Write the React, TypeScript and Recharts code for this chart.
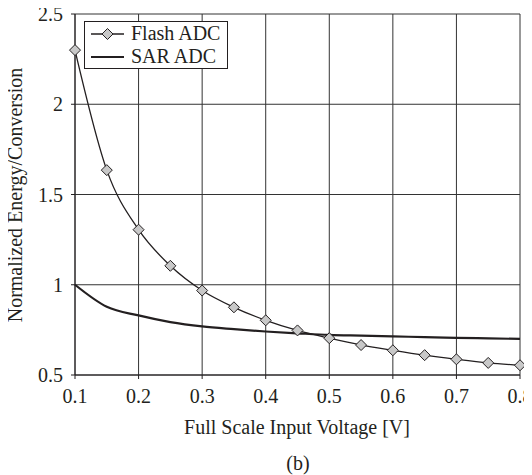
import React from "react";
import { LineChart, Line, XAxis, YAxis, CartesianGrid, Legend } from "recharts";

const voltages = [0.1, 0.15, 0.2, 0.25, 0.3, 0.35, 0.4, 0.45, 0.5, 0.55, 0.6, 0.65, 0.7, 0.75, 0.8];
const flashValues = [2.3, 1.635, 1.305, 1.105, 0.968, 0.875, 0.803, 0.747, 0.704, 0.666, 0.637, 0.61, 0.587, 0.567, 0.554];
const sarValues = [1.0, 0.878, 0.83, 0.793, 0.769, 0.754, 0.741, 0.731, 0.722, 0.718, 0.714, 0.71, 0.706, 0.703, 0.7];
const xTicks = [0.1, 0.2, 0.3, 0.4, 0.5, 0.6, 0.7, 0.8];
const yTicks = [0.5, 1, 1.5, 2, 2.5];

const data = voltages.map((v, i) => ({ v, flash: flashValues[i], sar: sarValues[i] }));

const FONT = '"Liberation Serif", "Times New Roman", serif';
const INK = "#231f20";

const Diamond = (props: any) => {
  const { cx, cy, index } = props;
  if (cx == null || cy == null) return null;
  const r = 5.5;
  return (
    <polygon
      key={`d-${index}`}
      points={`${cx},${cy - r} ${cx + r},${cy} ${cx},${cy + r} ${cx - r},${cy}`}
      fill="#c8c8c8"
      stroke={INK}
      strokeWidth={1}
    />
  );
};

const LegendBox = () => (
  <div
    style={{
      width: 142,
      height: 46,
      border: `1px solid ${INK}`,
      background: "#fff",
      fontFamily: FONT,
      fontSize: 20,
      color: INK,
      boxSizing: "content-box",
    }}
  >
    <div style={{ display: "flex", alignItems: "center", height: 23 }}>
      <svg width={46} height={16} style={{ flex: "none" }}>
        <line x1={6} y1={8} x2={39} y2={8} stroke={INK} strokeWidth={1.3} />
        <polygon points="22.5,2.5 28,8 22.5,13.5 17,8" fill="#c8c8c8" stroke={INK} strokeWidth={1} />
      </svg>
      <span style={{ lineHeight: "23px" }}>Flash ADC</span>
    </div>
    <div style={{ display: "flex", alignItems: "center", height: 23 }}>
      <svg width={46} height={16} style={{ flex: "none" }}>
        <line x1={6} y1={8} x2={39} y2={8} stroke={INK} strokeWidth={2.2} />
      </svg>
      <span style={{ lineHeight: "23px" }}>SAR ADC</span>
    </div>
  </div>
);

export default function App() {
  const tickStyle = { fontFamily: FONT, fontSize: 20, fill: INK };
  return (
    <div style={{ position: "relative", width: 524, height: 467, background: "#fff" }}>
      <style>{`.recharts-surface { overflow: visible; }`}</style>
      <LineChart
        width={524}
        height={467}
        data={data}
        margin={{ top: 6, right: 12, left: 0, bottom: 70 }}
      >
        <CartesianGrid stroke="#333" strokeWidth={1} horizontalValues={yTicks} verticalValues={xTicks} />
        <XAxis
          dataKey="v"
          type="number"
          domain={[0.1, 0.8]}
          ticks={xTicks}
          tick={tickStyle}
          tickSize={4}
          tickMargin={10}
          height={30}
          interval={0}
          axisLine={{ stroke: INK }}
          tickLine={{ stroke: INK }}
        />
        <YAxis
          type="number"
          domain={[0.5, 2.5]}
          ticks={yTicks}
          tick={tickStyle}
          tickSize={4}
          tickMargin={8}
          width={67}
          interval={0}
          axisLine={{ stroke: INK }}
          tickLine={{ stroke: INK }}
        />
        <Legend
          layout="vertical"
          align="center"
          verticalAlign="middle"
          content={() => <LegendBox />}
          wrapperStyle={{ position: "absolute", left: 76, top: 13, width: "auto", height: "auto" }}
        />
        <Line
          type="monotone"
          dataKey="sar"
          stroke={INK}
          strokeWidth={2.2}
          dot={false}
          activeDot={false}
          isAnimationActive={false}
        />
        <Line
          type="monotone"
          dataKey="flash"
          stroke={INK}
          strokeWidth={1.3}
          dot={(p: any) => <Diamond {...p} />}
          activeDot={false}
          isAnimationActive={false}
        />
      </LineChart>
      <div
        style={{
          position: "absolute",
          left: 7,
          top: 187,
          transform: "translate(-50%, -50%) rotate(-90deg)",
          whiteSpace: "nowrap",
          fontFamily: FONT,
          fontSize: 20,
          color: INK,
        }}
      >
        Normalized Energy/Conversion
      </div>
      <div
        style={{
          position: "absolute",
          left: 289,
          top: 419,
          transform: "translate(-50%, -50%)",
          whiteSpace: "nowrap",
          fontFamily: FONT,
          fontSize: 20,
          color: INK,
        }}
      >
        Full Scale Input Voltage [V]
      </div>
      <div
        style={{
          position: "absolute",
          left: 290,
          top: 455,
          transform: "translate(-50%, -50%)",
          whiteSpace: "nowrap",
          fontFamily: FONT,
          fontSize: 20,
          color: INK,
        }}
      >
        (b)
      </div>
    </div>
  );
}
